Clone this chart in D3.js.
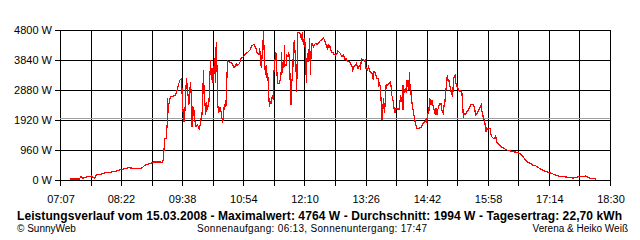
<!DOCTYPE html>
<html><head><meta charset="utf-8">
<script src="https://cdn.jsdelivr.net/npm/d3@7/dist/d3.min.js"></script>
<style>
html,body{margin:0;padding:0;background:#fff;}
svg{display:block;}
text{font-family:"Liberation Sans",Arial,sans-serif;fill:#000;}
</style></head>
<body>
<svg id="chart" width="640" height="240"></svg>
<script>
// ---- data ----
const times = [
"07:19","07:31","07:33","07:35","07:38","07:46","07:50","07:52","07:57","08:02","08:09","08:17","08:24","08:32","08:38","08:48","08:53","08:59","09:03","09:11",
"09:14","09:15","09:16","09:17","09:19","09:20","09:20","09:21","09:22","09:24","09:30","09:32","09:34","09:36","09:38","09:39","09:41","09:42","09:44","09:46",
"09:47","09:49","09:51","09:51","09:53","09:54","09:56","09:58","10:00","10:02","10:03","10:04","10:05","10:06","10:08","10:09","10:10","10:12","10:13","10:14",
"10:15","10:17","10:17","10:19","10:20","10:21","10:22","10:23","10:24","10:26","10:27","10:29","10:30","10:31","10:33","10:34","10:35","10:38","10:41","10:43",
"10:46","10:47","10:50","10:52","10:55","10:58","11:01","11:03",
"11:05","11:08","11:10","11:12","11:14","11:15","11:16","11:17","11:18","11:20","11:20","11:21","11:22","11:23","11:24","11:25","11:26","11:27","11:28","11:29",
"11:31","11:32","11:32","11:34","11:35","11:36","11:37","11:39","11:41","11:42","11:42","11:43","11:44","11:45","11:46","11:46","11:48","11:49","11:50","11:51",
"11:52","11:53","11:54","11:54","11:56","11:57","11:58","11:58","12:00","12:01","12:02","12:05","12:07","12:08","12:09","12:10","12:11","12:13","12:13","12:15",
"12:15","12:16","12:17","12:18","12:19","12:20","12:22","12:24","12:26","12:28","12:30","12:32","12:34","12:36","12:37","12:39","12:40","12:41","12:42","12:44",
"12:46","12:47","12:49","12:51","12:52","12:55",
"12:57","12:59","13:01","13:02","13:04","13:06","13:08","13:10","13:10","13:12","13:14","13:15","13:17","13:19","13:20","13:21","13:22","13:25","13:26","13:27",
"13:29","13:30","13:32","13:34","13:35","13:36","13:37","13:39","13:40","13:42","13:43","13:44","13:45","13:46","13:47","13:47","13:49","13:49","13:50","13:51",
"13:52","13:54","13:55","13:57","13:58","13:59","14:01","14:02","14:03","14:04","14:06","14:08","14:09","14:10","14:11","14:12","14:13","14:13","14:15","14:16",
"14:17","14:18","14:20","14:21","14:22","14:23","14:24","14:25","14:27","14:28","14:29","14:30","14:32","14:35","14:37","14:38","14:40","14:42","14:42","14:44",
"14:45",
"14:46","14:48","14:49","14:50","14:51","14:53","14:54","14:55","14:56","14:58","14:59","15:00","15:01","15:03","15:04","15:05","15:06","15:08","15:09","15:10",
"15:11","15:13","15:14","15:15","15:15","15:16","15:18","15:18","15:20","15:21","15:23","15:25","15:26","15:27","15:28","15:29","15:31","15:32","15:34","15:35",
"15:37","15:38","15:40","15:42","15:43","15:44","15:46","15:47","15:49","15:50","15:51","15:52","15:53","15:54","15:55","15:56","15:57","15:58","15:59","16:01",
"16:02","16:03","16:05","16:07","16:08","16:09","16:11","16:13","16:15","16:18","16:22","16:26","16:30","16:34","16:38",
"16:42","16:45","16:47","16:51","16:54","16:58","17:01","17:04","17:07","17:11","17:15","17:20","17:24","17:30","17:36","17:42","17:44","17:49","17:55","18:00",
"18:03","18:07","18:11","18:13"
];
const watts = [
32,32,106,53,85,128,53,160,181,224,245,288,341,395,373,373,480,523,576,576,
566,640,906,1334,1334,1760,2614,2134,2400,2666,2698,2826,3040,3200,3232,2454,1866,2134,3254,2720,
2400,3146,2294,1706,2346,1974,1706,1760,1600,1920,2186,2080,3520,2826,2080,2506,2240,2506,3254,3840,
3200,3574,3094,3894,3094,4426,3574,2400,2134,2346,2186,1814,2026,2400,2346,3040,3808,3766,3734,3594,
3702,3658,3734,3894,3946,4054,4106,4160,
4298,4342,4234,4054,4000,4234,3840,3574,4000,4764,4426,3894,3360,3680,3254,3414,2826,2346,2506,2454,
2720,2560,3254,3840,4106,3680,3094,3094,3254,3574,4106,3414,3786,3574,4320,3680,3680,4000,3946,4106,
3894,2986,2400,2986,3360,4426,4054,4480,3626,2826,4726,4694,4480,4746,4374,4320,4534,3094,3894,3786,
4054,4000,4534,3360,4214,4374,4266,4374,4342,4374,4448,4480,4554,4448,4374,4214,4320,4234,4298,4086,
4086,4022,4000,4054,4128,4054,
3946,4000,3840,3894,3808,3786,3734,3594,3466,3626,3680,3734,3574,3658,3594,3786,3872,3808,3840,3574,
3520,3626,3466,3446,3360,3200,3466,3414,3254,3254,3040,3094,2934,2400,1920,2134,2614,2400,2134,2560,
3040,3040,3062,3146,3040,2720,2506,2240,2134,2294,2272,2272,2454,2720,2506,2666,2240,3040,2774,2934,
2774,3200,2880,3466,2720,2774,2506,2294,2026,1866,1760,1654,1654,1674,1760,1814,1866,1974,1814,2134,
2166,
2614,2400,2560,2400,2294,2080,2294,2080,2240,2400,2454,2454,2240,2134,2400,2506,2826,3360,3146,3200,
3040,2774,2720,2986,2826,3254,3382,3146,2986,2934,2848,2848,2826,2400,1994,2134,2102,2166,2240,2294,
2400,2422,2422,2294,2080,2102,2186,2240,2346,2400,2186,2080,1974,1920,1760,1546,1654,1632,1654,1654,
1494,1386,1334,1334,1440,1226,1174,1120,1066,1014,960,928,906,886,854,
746,640,586,534,480,448,394,352,298,266,234,182,138,106,96,74,54,96,106,128,
74,54,54,22
];
const xTickLabels = ["07:07","08:22","09:38","10:54","12:10","13:26","14:42","15:58","17:14","18:30"];
const yTickValues = [0, 960, 1920, 2880, 3840, 4800];
const averageW = 1994;
const titleText = "Leistungsverlauf vom 15.03.2008 - Maximalwert: 4764 W - Durchschnitt: 1994 W - Tagesertrag: 22,70 kWh";
const copyrightText = "\u00A9 SunnyWeb";
const sunText = "Sonnenaufgang: 06:13, Sonnenuntergang: 17:47";
const authorText = "Verena & Heiko Wei\u00DF";

// ---- chart ----
const toMin = s => { const [h, m] = s.split(":").map(Number); return h * 60 + m; };
const svg = d3.select("#chart");
const L = 60, R = 610, T = 30, B = 180;
const x0 = toMin(xTickLabels[0]), x1 = toMin(xTickLabels[xTickLabels.length - 1]);
const x = d3.scaleLinear().domain([x0, x1]).range([L, R]);
const y = d3.scaleLinear().domain([0, 4800]).range([B, T]);
const px = v => Math.round(v) + 0.5;

const g = svg.append("g").attr("shape-rendering", "crispEdges");
// horizontal grid lines + ticks to the left
yTickValues.forEach(v => {
  g.append("line").attr("x1", L - 5).attr("x2", R + 0.5)
    .attr("y1", px(y(v))).attr("y2", px(y(v))).attr("stroke", "#000");
  svg.append("text").attr("x", 52).attr("y", y(v) + 4)
    .attr("text-anchor", "end").attr("font-size", 11).text(v + " W");
});
// vertical grid lines + ticks below
const nGrid = (xTickLabels.length - 1) * 2;
d3.range(nGrid + 1).forEach(i => {
  const t = x0 + i * (x1 - x0) / nGrid;
  g.append("line").attr("x1", px(x(t))).attr("x2", px(x(t)))
    .attr("y1", T).attr("y2", B + 6).attr("stroke", "#000");
});
xTickLabels.forEach(s => {
  svg.append("text").attr("x", x(toMin(s)) + 1).attr("y", 203)
    .attr("text-anchor", "middle").attr("font-size", 11).text(s);
});
// average line
g.append("line").attr("x1", L).attr("x2", R)
  .attr("y1", px(y(averageW))).attr("y2", px(y(averageW))).attr("stroke", "#a0a0a0");

// power curve
const data = times.map((t, i) => [toMin(t), watts[i]]);
svg.append("path").datum(data)
  .attr("d", d3.line().x(d => x(d[0])).y(d => y(d[1])))
  .attr("fill", "none").attr("stroke", "#ff0000").attr("stroke-width", 1.2)
  .attr("shape-rendering", "crispEdges");

// texts
svg.append("text").attr("x", 17).attr("y", 220)
  .attr("font-size", 12).attr("font-weight", "bold")
  .attr("textLength", 605).attr("lengthAdjust", "spacing").text(titleText);
svg.append("text").attr("x", 17).attr("y", 232).attr("font-size", 10).text(copyrightText);
svg.append("text").attr("x", 312).attr("y", 232).attr("text-anchor", "middle").attr("font-size", 10)
  .attr("textLength", 230).attr("lengthAdjust", "spacing").text(sunText);
svg.append("text").attr("x", 628).attr("y", 232).attr("text-anchor", "end").attr("font-size", 10).text(authorText);
</script>
</body></html>
